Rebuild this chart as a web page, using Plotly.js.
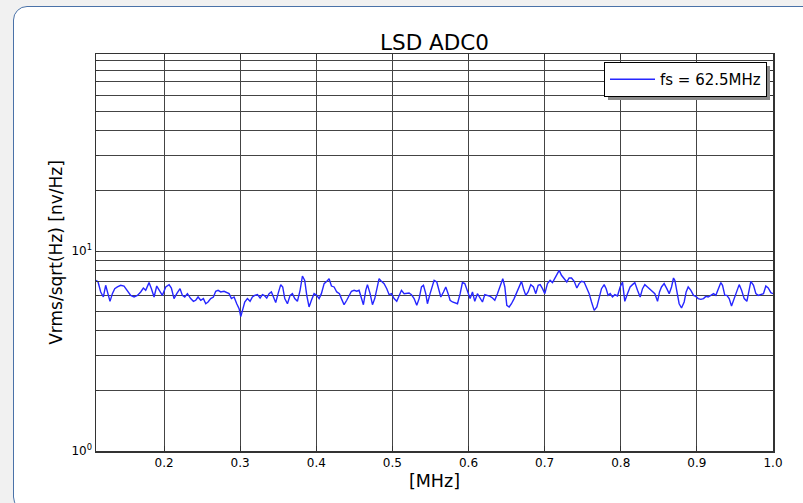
<!DOCTYPE html>
<html>
<head>
<meta charset="utf-8">
<script src="https://cdn.plot.ly/plotly-3.0.1.min.js"></script>
<style>
  html, body { margin: 0; padding: 0; width: 803px; height: 503px; overflow: hidden; background: #f1f1f1; }
  #frame { position: absolute; left: 13px; top: 6px; width: 820px; height: 505px; background: #ffffff;
           border: 1.5px solid #4a72a8; border-radius: 14px; box-sizing: border-box; }
  #chart { position: absolute; left: 0; top: 0; width: 803px; height: 503px; }
</style>
</head>
<body>
<div id="frame"></div>
<div id="chart"></div>
<script>
// Frequency (MHz)
const freqMHz = [
  0.1106,0.1133,0.1168,0.1203,0.1233,0.1264,0.1290,0.1321,0.1352,0.1387,
  0.1431,0.1474,0.1518,0.1562,0.1606,0.1650,0.1693,0.1728,0.1759,0.1803,
  0.1834,0.1869,0.1904,0.1934,0.1978,0.2022,0.2066,0.2096,0.2131,0.2167,
  0.2210,0.2241,0.2272,0.2307,0.2350,0.2386,0.2416,0.2447,0.2482,0.2517,
  0.2548,0.2578,0.2613,0.2648,0.2679,0.2710,0.2745,0.2788,0.2823,0.2854,
  0.2885,0.2920,0.2955,0.2986,0.3008,0.3034,0.3060,0.3095,0.3130,0.3161,
  0.3191,0.3227,0.3262,0.3292,
  0.3314,0.3349,0.3380,0.3410,0.3437,0.3467,0.3498,0.3533,0.3559,0.3586,
  0.3621,0.3656,0.3686,0.3717,0.3752,0.3787,0.3818,0.3848,0.3875,0.3905,
  0.3936,0.3971,0.4006,0.4037,0.4067,0.4103,0.4138,0.4168,0.4199,0.4234,
  0.4269,0.4304,0.4330,0.4365,0.4400,0.4431,0.4462,0.4497,0.4532,0.4562,
  0.4593,0.4619,0.4650,0.4672,0.4707,0.4738,0.4768,0.4795,0.4825,0.4856,
  0.4891,0.4926,0.4957,0.4987,0.5022,0.5057,0.5088,0.5119,0.5154,0.5189,
  0.5219,0.5250,0.5285,0.5320,0.5351,0.5382,0.5408,0.5438,0.5460,0.5495,
  0.5526,
  0.5548,0.5583,0.5614,0.5636,0.5671,0.5701,0.5732,0.5758,0.5789,0.5820,
  0.5855,0.5890,0.5920,0.5951,0.5986,0.6021,0.6052,0.6082,0.6117,0.6153,
  0.6183,0.6214,0.6249,0.6284,0.6315,0.6345,0.6380,0.6415,0.6450,0.6477,
  0.6503,0.6534,0.6564,0.6599,0.6634,0.6665,0.6696,0.6722,0.6752,0.6783,
  0.6818,0.6853,0.6884,0.6915,0.6941,0.6972,0.7002,0.7037,0.7072,0.7103,
  0.7134,0.7160,0.7191,0.7221,0.7256,0.7291,0.7322,0.7353,0.7388,0.7423,
  0.7453,0.7484,0.7519,0.7554,0.7585,0.7616,0.7651,0.7686,0.7716,0.7747,
  0.7782,0.7808,0.7834,0.7861,0.7891,0.7922,0.7957,0.7992,0.8023,0.8053,
  0.8088,0.8123,0.8154,0.8185,0.8220,0.8255,0.8286,0.8316,0.8351,0.8386,
  0.8417,0.8448,0.8483,0.8509,0.8535,0.8570,0.8605,0.8636,0.8667,0.8693,
  0.8711,0.8746,0.8767,0.8798,0.8833,0.8859,0.8886,0.8921,0.8956,0.8986,
  0.9017,0.9052,0.9087,0.9118,0.9148,0.9183,0.9219,0.9249,0.9280,0.9315,
  0.9337,0.9367,0.9394,0.9424,0.9455,0.9490,0.9525,0.9556,0.9587,0.9622,
  0.9657,0.9687,0.9709,0.9744,0.9775,0.9805,0.9840,0.9875,0.9906,0.9937,
  0.9972,1.0000
];

// Noise density values (nV/sqrt(Hz))
const lsdValues = [
  7.13,7.00,6.24,5.89,6.74,6.12,5.60,6.12,6.48,6.61,
  6.74,6.68,6.36,6.00,5.89,6.00,6.24,6.53,6.36,6.95,
  6.48,5.89,6.68,6.36,6.00,6.61,6.79,6.53,5.78,6.12,
  6.48,6.00,5.89,6.12,5.78,5.60,5.67,5.89,5.67,5.78,
  5.45,5.56,5.78,5.89,6.29,6.36,6.24,6.29,6.19,6.12,
  5.78,5.89,5.45,5.15,4.70,5.15,5.56,5.78,5.60,5.89,
  6.00,6.05,5.82,6.05,
  6.00,5.82,6.12,6.24,5.82,5.52,6.12,6.79,6.61,5.78,
  5.45,6.00,6.12,5.78,5.60,6.36,7.50,7.13,6.00,5.25,
  5.67,6.12,6.00,5.78,6.12,6.87,7.05,7.27,6.68,6.61,
  6.24,6.12,5.78,5.39,5.67,6.00,6.29,6.36,6.29,6.36,
  5.78,5.39,6.36,6.79,6.12,5.39,5.78,6.48,7.27,7.05,
  6.87,6.48,6.05,6.12,5.78,5.60,6.00,6.36,6.12,6.12,
  6.17,6.05,5.78,5.35,5.78,6.61,6.74,6.12,5.45,6.12,
  6.74,
  7.13,7.00,6.36,5.89,6.24,6.61,6.12,5.67,5.56,5.52,
  5.45,6.12,6.95,6.87,6.36,5.78,6.24,5.60,6.12,5.78,
  5.56,6.05,6.00,5.93,5.82,5.67,6.12,6.61,7.27,6.61,
  5.35,5.25,5.45,5.78,6.24,6.61,7.05,6.48,6.00,6.24,
  6.79,6.61,6.12,6.74,6.79,6.48,6.12,6.87,7.13,6.95,
  7.33,7.56,8.00,7.56,7.27,7.00,7.33,7.33,7.05,6.53,
  6.87,7.05,7.00,6.53,6.12,5.56,5.05,5.25,5.89,6.48,
  6.79,6.48,6.00,6.12,5.89,6.05,5.96,6.61,7.00,5.60,
  6.12,6.61,6.79,6.95,6.36,5.89,6.48,6.79,6.61,6.43,
  6.24,6.12,5.60,6.24,6.61,6.87,6.48,6.12,6.61,7.33,
  7.13,6.12,5.45,5.19,5.56,6.24,6.61,6.36,6.00,5.93,
  5.78,5.73,5.78,5.93,5.89,6.00,6.12,6.00,6.48,6.95,
  6.74,6.00,6.00,5.78,5.31,5.78,6.36,6.79,6.36,5.78,
  5.60,6.48,7.05,6.74,6.12,6.00,6.05,6.12,6.68,6.53,
  6.19,6.12
];

const xTickVals = [0.2,0.3,0.4,0.5,0.6,0.7,0.8,0.9,1.0];
const xTickText = ["0.2","0.3","0.4","0.5","0.6","0.7","0.8","0.9","1.0"];
const yGridVals = [1,2,3,4,5,6,7,8,9,10,20,30,40,50,60,70,80,90];
const yGridText = ["10<sup>0</sup>","","","","","","","","","10<sup>1</sup>","","","","","","","",""];

const traceName = "fs = 62.5MHz";
const chartTitle = "LSD ADC0";
const xTitle = "[MHz]";
const yTitle = "Vrms/sqrt(Hz) [nv/Hz]";

const FONT = "DejaVu Sans, sans-serif";

const trace = {
  x: freqMHz, y: lsdValues, type: "scatter", mode: "lines", name: traceName,
  line: { color: "#2626ff", width: 1.4 }
};

// plot area in px: left 96, right 773, top 54, bottom 451
const L = 96, R = 773, T = 54, B = 451, W = 803, H = 503;
const px2x = p => (p - L) / (R - L);
const py2y = p => (B - p) / (B - T);

const layout = {
  width: W, height: H,
  paper_bgcolor: "rgba(0,0,0,0)", plot_bgcolor: "#ffffff",
  margin: { l: L, r: W - R, t: T, b: H - B, pad: 0 },
  font: { family: FONT, color: "#000", size: 12 },
  title: { text: chartTitle, font: { family: FONT, size: 21.5, color: "#000" },
           x: 0.5, xref: "paper", xanchor: "center", y: 1 - 42 / H, yref: "container", yanchor: "middle" },
  showlegend: true,
  legend: { x: px2x(767), y: py2y(62), xanchor: "right", yanchor: "top",
            bgcolor: "#ffffff", bordercolor: "#000", borderwidth: 1, itemwidth: 45,
            font: { family: FONT, size: 15, color: "#000" } },
  xaxis: {
    type: "linear", range: [0.1106, 1.0],
    tickmode: "array", tickvals: xTickVals, ticktext: xTickText,
    showgrid: true, gridcolor: "#444", gridwidth: 1,
    zeroline: false, showline: true, linecolor: "#333", linewidth: 1.5, mirror: "ticks",
    ticks: "inside", ticklen: 5, tickcolor: "#333",
    tickfont: { family: FONT, size: 12, color: "#000" },
    title: { text: xTitle, font: { family: FONT, size: 17.5, color: "#000" }, standoff: 6 }
  },
  yaxis: {
    type: "log", range: [0, 1.985],
    tickmode: "array", tickvals: yGridVals, ticktext: yGridText,
    showgrid: true, gridcolor: "#444", gridwidth: 1,
    zeroline: false, showline: true, linecolor: "#333", linewidth: 1.5, mirror: "ticks",
    ticks: "inside", ticklen: 3, tickcolor: "#333",
    tickfont: { family: FONT, size: 12, color: "#000" },
    title: { text: yTitle, font: { family: FONT, size: 17, color: "#000" }, standoff: 4 }
  },
  shapes: [
    // legend drop shadow
    { type: "rect", xref: "paper", yref: "paper", layer: "above",
      x0: px2x(608), x1: px2x(770), y0: py2y(100), y1: py2y(66),
      fillcolor: "#8a8a8a", line: { width: 0 } }
  ]
};

Plotly.newPlot("chart", [trace], layout, { displayModeBar: false, staticPlot: true });
</script>
</body>
</html>
